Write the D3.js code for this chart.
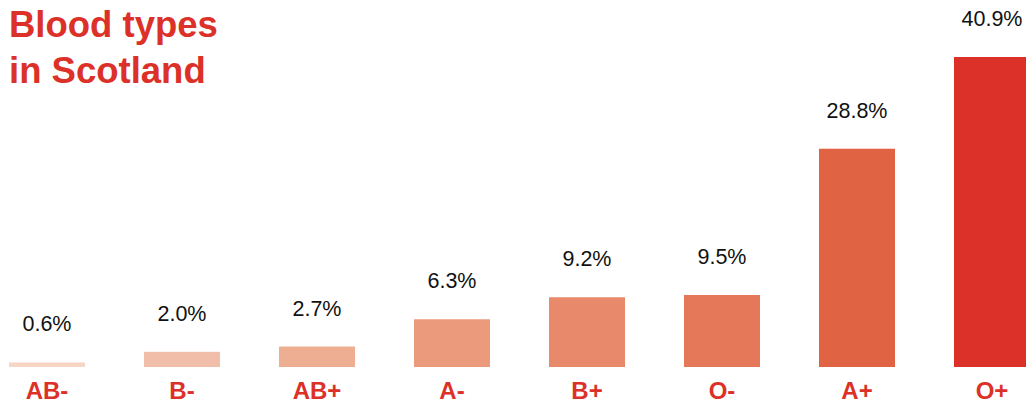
<!DOCTYPE html>
<html>
<head>
<meta charset="utf-8">
<script src="https://cdn.jsdelivr.net/npm/d3@7"></script>
<style>
  html, body { margin: 0; padding: 0; background: #fff; }
  svg { display: block; }
</style>
</head>
<body>
<svg id="chart" width="1026" height="405"></svg>
<script>
const categories = ["AB-", "B-", "AB+", "A-", "B+", "O-", "A+", "O+"];
const values = [0.6, 2.0, 2.7, 6.3, 9.2, 9.5, 28.8, 40.9];
const valueLabels = ["0.6%", "2.0%", "2.7%", "6.3%", "9.2%", "9.5%", "28.8%", "40.9%"];
const colors = ["#f6d5c5", "#f1bfa9", "#eeae92", "#eb9b7b", "#e8896b", "#e57858", "#e06343", "#dc3128"];
const titleLines = ["Blood types", "in Scotland"];

const svg = d3.select("#chart");
const red = "#dc3128";
const font = "'Liberation Sans', Arial, Helvetica, sans-serif";

const x = d3.scaleBand().domain(categories).range([9, 1030]).paddingInner(0.437).paddingOuter(0);
const y = d3.scaleLinear().domain([0, 40.9]).range([367, 57]);

svg.selectAll("rect.bar").data(categories).join("rect")
  .attr("class", "bar")
  .attr("x", d => x(d))
  .attr("width", x.bandwidth())
  .attr("y", (d, i) => y(values[i]))
  .attr("height", (d, i) => y(0) - y(values[i]))
  .attr("fill", (d, i) => colors[i]);

svg.selectAll("text.val").data(categories).join("text")
  .attr("class", "val")
  .attr("x", d => x(d) + x.bandwidth() / 2)
  .attr("y", (d, i) => y(values[i]) - 31)
  .attr("text-anchor", "middle")
  .attr("font-family", font)
  .attr("font-size", 21.5)
  .attr("fill", "#111")
  .text((d, i) => valueLabels[i]);

const xAxis = d3.axisBottom(x).tickSize(0).tickPadding(0);
const gx = svg.append("g").attr("transform", "translate(0,367)").call(xAxis);
gx.select(".domain").remove();
gx.selectAll("text")
  .attr("y", 0)
  .attr("dy", 0)
  .attr("transform", "translate(0,32)")
  .attr("font-family", font)
  .attr("font-size", 24)
  .attr("font-weight", "bold")
  .attr("fill", red);

svg.selectAll("text.title").data(titleLines).join("text")
  .attr("class", "title")
  .attr("x", 9)
  .attr("y", (d, i) => 37 + i * 46)
  .attr("font-family", font)
  .attr("font-size", 36.5)
  .attr("font-weight", "bold")
  .attr("fill", red)
  .text(d => d);
</script>
</body>
</html>
